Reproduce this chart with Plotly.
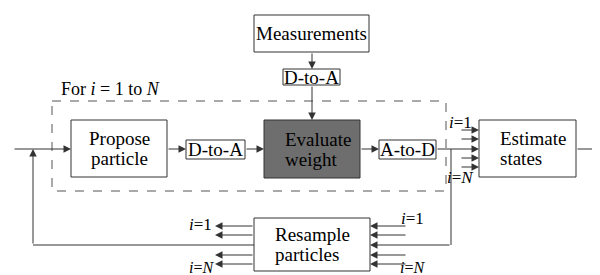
import plotly.graph_objects as go

FONT = "Liberation Serif"
LINE = "#333333"

# Blocks: name, x0, x1, y0, y1, fill, text lines, text alignment
blocks = [
    ("meas", 246, 361, 7, 44, "white", ["Measurements"], "center"),
    ("dta_top", 275, 332, 61, 77, "white", ["D-to-A"], "center"),
    ("propose", 63, 159, 112, 169, "white", ["Propose", "particle"], "center"),
    ("dta_mid", 178, 237, 132, 151, "white", ["D-to-A"], "center"),
    ("evaluate", 256, 352, 112, 170, "#6e6e6e", ["Evaluate", "weight"], "left"),
    ("atd", 371, 428, 132, 151, "white", ["A-to-D"], "center"),
    ("estimate", 471, 568, 112, 169, "white", ["Estimate", "states"], "left"),
    ("resample", 246, 362, 210, 263, "white", ["Resample", "particles"], "left"),
]

# Dashed loop region
loop_box = (44, 438, 93, 183)

# Plain connector lines (x0, y0, x1, y1)
lines = [
    (443, 141, 443, 237),
    (25, 237, 246, 237),
]

# Arrows (tail x, tail y, head x, head y)
arrows = [
    (5, 141, 63, 141),
    (25, 237, 25, 141),
    (159, 141, 178, 141),
    (237, 141, 256, 141),
    (352, 141, 371, 141),
    (304, 44, 304, 61),
    (304, 77, 304, 112),
    (428, 141, 471, 141),
    (452, 122, 471, 122),
    (452, 131, 471, 131),
    (452, 150, 471, 150),
    (452, 159, 471, 159),
    (568, 141, 600, 141),
    (443, 237, 362, 237),
    (399, 218, 362, 218),
    (399, 227, 362, 227),
    (399, 247, 362, 247),
    (399, 256, 362, 256),
    (246, 218, 207, 218),
    (246, 227, 207, 227),
    (246, 247, 207, 247),
    (246, 256, 207, 256),
]

# Free text labels (text, x, y, size)
labels = [
    ("For <i>i</i> = 1 to <i>N</i>", 102, 81, 18),
    ("<i>i</i>=1", 452, 114, 17),
    ("<i>i</i>=<i>N</i>", 452, 169, 17),
    ("<i>i</i>=1", 404, 210, 17),
    ("<i>i</i>=<i>N</i>", 404, 259, 16),
    ("<i>i</i>=1", 192, 216, 17),
    ("<i>i</i>=<i>N</i>", 193, 259, 16),
]

fig = go.Figure()
shapes = []
annotations = []

x0, x1, y0, y1 = loop_box
shapes.append(dict(type="rect", x0=x0, x1=x1, y0=y0, y1=y1,
                   line=dict(color="#555555", width=1, dash="dash"), layer="below"))

for (name, bx0, bx1, by0, by1, fill, txt, align) in blocks:
    shapes.append(dict(type="rect", x0=bx0, x1=bx1, y0=by0, y1=by1,
                       line=dict(color=LINE, width=1), fillcolor=fill, layer="above"))
    n = len(txt)
    cy = (by0 + by1) / 2
    for k, t in enumerate(txt):
        ty = cy + (k - (n - 1) / 2) * 20
        if align == "left":
            annotations.append(dict(x=bx0 + 19, y=ty, text=t, showarrow=False,
                                    xanchor="left", yanchor="middle",
                                    font=dict(family=FONT, size=19, color="black")))
        else:
            annotations.append(dict(x=(bx0 + bx1) / 2, y=ty, text=t, showarrow=False,
                                    xanchor="center", yanchor="middle",
                                    font=dict(family=FONT, size=19, color="black")))

for (lx0, ly0, lx1, ly1) in lines:
    shapes.append(dict(type="line", x0=lx0, y0=ly0, x1=lx1, y1=ly1,
                       line=dict(color=LINE, width=1)))

for (tx, ty, hx, hy) in arrows:
    annotations.append(dict(x=hx, y=hy, ax=tx, ay=ty, axref="x", ayref="y",
                            xref="x", yref="y", text="", showarrow=True,
                            arrowhead=2, arrowsize=1.5, arrowwidth=1,
                            arrowcolor=LINE))

for (t, lx, ly, sz) in labels:
    annotations.append(dict(x=lx, y=ly, text=t, showarrow=False,
                            xanchor="center", yanchor="middle", borderpad=0,
                            font=dict(family=FONT, size=sz, color="black")))

fig.update_layout(
    width=600, height=275,
    margin=dict(l=0, r=0, t=0, b=0),
    paper_bgcolor="white", plot_bgcolor="white",
    font=dict(family=FONT),
    xaxis=dict(range=[0, 600], visible=False, fixedrange=True),
    yaxis=dict(range=[275, 0], visible=False, fixedrange=True),
    shapes=shapes, annotations=annotations, showlegend=False,
)

fig.write_html("out.html")
